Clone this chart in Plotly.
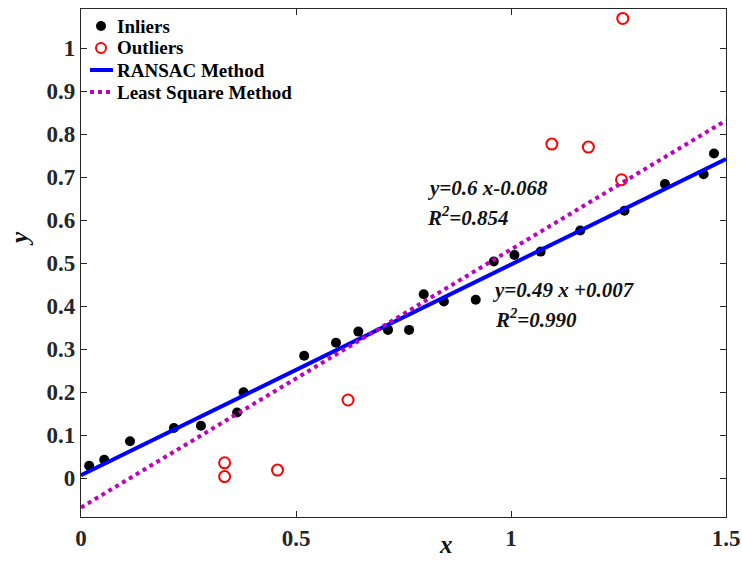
import plotly.graph_objects as go

# Inlier points
inlier_x = [0.019, 0.054, 0.114, 0.216, 0.279, 0.363, 0.378, 0.519, 0.593, 0.645,
            0.714, 0.763, 0.797, 0.844, 0.918, 0.960, 1.008, 1.069, 1.161, 1.264,
            1.358, 1.448, 1.472]
inlier_y = [0.029, 0.043, 0.086, 0.117, 0.122, 0.153, 0.200, 0.285, 0.315, 0.341,
            0.345, 0.345, 0.428, 0.411, 0.415, 0.504, 0.519, 0.527, 0.576, 0.622,
            0.684, 0.707, 0.755]

# Outlier points
outlier_x = [0.334, 0.334, 0.457, 0.621, 1.095, 1.180, 1.257, 1.260]
outlier_y = [0.036, 0.004, 0.019, 0.182, 0.777, 0.770, 0.694, 1.069]

# Fit lines (slope, intercept)
ransac_fit = (0.49, 0.007)
ls_fit = (0.6, -0.068)
line_x = [0, 1.5]

x_ticks = [0, 0.5, 1, 1.5]
y_ticks = [0, 0.1, 0.2, 0.3, 0.4, 0.5, 0.6, 0.7, 0.8, 0.9, 1]

legend_labels = ["Inliers", "Outliers", "RANSAC Method", "Least Square Method"]

serif = "Liberation Serif"
BLUE = "#0000FF"
MAG = "#C000C0"

W, H = 742, 561
ML, MR, MT, MB = 81, 16, 9, 44
PW, PH = W - ML - MR, H - MT - MB


def px(xp):
    return (xp - ML) / PW


def py(yp):
    return (H - MB - yp) / PH


fig = go.Figure()
fig.add_trace(go.Scatter(x=inlier_x, y=inlier_y, mode="markers", name=legend_labels[0],
                         marker=dict(color="black", size=10, symbol="circle")))
fig.add_trace(go.Scatter(x=outlier_x, y=outlier_y, mode="markers", name=legend_labels[1],
                         marker=dict(color="rgba(0,0,0,0)", size=11, symbol="circle",
                                     line=dict(width=2, color="red"))))
fig.add_trace(go.Scatter(x=line_x, y=[ransac_fit[0] * v + ransac_fit[1] for v in line_x],
                         mode="lines", name=legend_labels[2],
                         line=dict(color=BLUE, width=4)))
fig.add_trace(go.Scatter(x=line_x, y=[ls_fit[0] * v + ls_fit[1] for v in line_x],
                         mode="lines", name=legend_labels[3],
                         line=dict(color=MAG, width=4, dash="dot")))

# Fit equations
ann_font = dict(family=serif, size=21, color="#111111")
fig.add_annotation(x=0.80, y=0.675, xref="x", yref="y", xanchor="left", yanchor="middle",
                   text="<b><i>y=0.6 x-0.068</i></b>", showarrow=False, font=ann_font)
fig.add_annotation(x=0.80, y=0.608, xref="x", yref="y", xanchor="left", yanchor="middle",
                   text="<b><i>R<sup>2</sup>=0.854</i></b>", showarrow=False, font=ann_font)
fig.add_annotation(x=0.952, y=0.438, xref="x", yref="y", xanchor="left", yanchor="middle",
                   text="<b><i>y=0.49 x +0.007</i></b>", showarrow=False, font=ann_font)
fig.add_annotation(x=0.957, y=0.372, xref="x", yref="y", xanchor="left", yanchor="middle",
                   text="<b><i>R<sup>2</sup>=0.990</i></b>", showarrow=False, font=ann_font)

# Axis titles
title_font = dict(family=serif, size=25, color="#111111")
fig.add_annotation(x=px(446), y=py(560), xref="paper", yref="paper",
                   xanchor="center", yanchor="bottom",
                   text="<b><i>x</i></b>", showarrow=False, font=title_font)
fig.add_annotation(x=px(19), y=py(239), xref="paper", yref="paper", textangle=-90,
                   xanchor="center", yanchor="middle",
                   text="<b><i>y</i></b>", showarrow=False, font=title_font)

# Manual legend
leg_rows = [26, 48, 70, 92]
leg_font = dict(family=serif, size=19, color="black")
for lab, ry in zip(legend_labels, leg_rows):
    fig.add_annotation(x=px(115), y=py(ry), xref="paper", yref="paper", xanchor="left",
                       yanchor="middle", text="<b>%s</b>" % lab, showarrow=False, font=leg_font)
fig.add_shape(type="circle", xref="paper", yref="paper", xsizemode="pixel", ysizemode="pixel",
              xanchor=px(101), yanchor=py(leg_rows[0]), x0=-5, x1=5, y0=-5, y1=5,
              fillcolor="black", line=dict(color="black", width=0))
fig.add_shape(type="circle", xref="paper", yref="paper", xsizemode="pixel", ysizemode="pixel",
              xanchor=px(101), yanchor=py(leg_rows[1]), x0=-5, x1=5, y0=-5, y1=5,
              fillcolor="rgba(0,0,0,0)", line=dict(color="red", width=2))
fig.add_shape(type="line", xref="paper", yref="paper", x0=px(90), x1=px(113),
              y0=py(leg_rows[2]), y1=py(leg_rows[2]), line=dict(color=BLUE, width=4))
fig.add_shape(type="line", xref="paper", yref="paper", x0=px(90), x1=px(113),
              y0=py(leg_rows[3]), y1=py(leg_rows[3]), line=dict(color=MAG, width=4, dash="dot"))

axis_common = dict(showgrid=False, zeroline=False, showline=True, linecolor="#262626",
                   linewidth=1.3, mirror="ticks", ticks="inside", ticklen=6,
                   tickcolor="#262626", automargin=False,
                   tickfont=dict(family=serif, size=23, color="#262626"))

fig.update_xaxes(range=[0, 1.5], tickvals=x_ticks, ticktext=["<b>%g</b>" % v for v in x_ticks],
                 **axis_common)
fig.update_yaxes(range=[-0.09, 1.091], tickvals=y_ticks, ticktext=["<b>%g</b>" % v for v in y_ticks],
                 **axis_common)

fig.update_layout(width=W, height=H, plot_bgcolor="white", paper_bgcolor="white",
                  margin=dict(l=ML, r=MR, t=MT, b=MB), showlegend=False)

fig.write_html("out.html", config={"displayModeBar": False},
               post_script="document.body.style.margin='0';document.body.style.overflow='hidden';")
